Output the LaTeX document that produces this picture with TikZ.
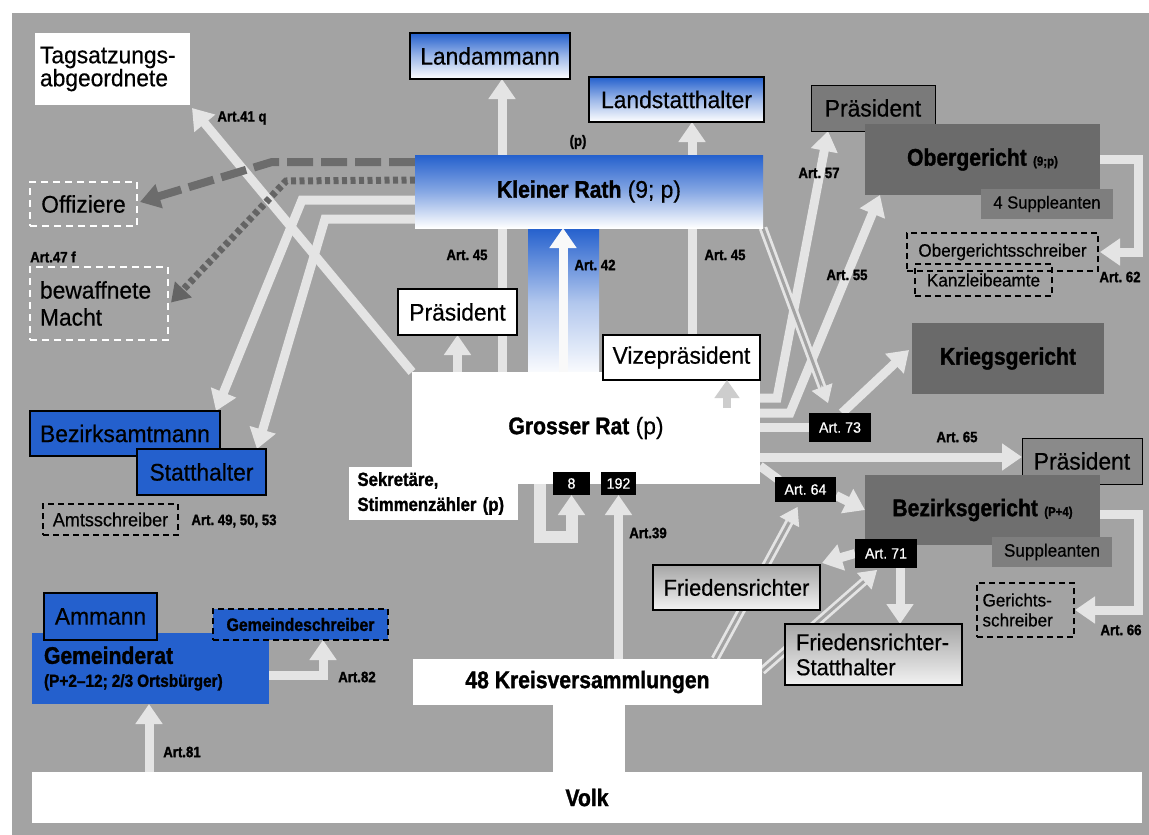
\documentclass[tikz,border=0pt]{standalone}
\usepackage{fontspec}
\setmainfont{Liberation Sans}[FakeStretch=0.95, UprightFeatures={FakeBold=0.5}, BoldFeatures={FakeStretch=0.88, FakeBold=1.3}]
\usetikzlibrary{arrows.meta,calc}
\definecolor{bgc}{RGB}{163,163,163}
\definecolor{bandc}{RGB}{228,228,228}
\definecolor{blu}{RGB}{36,96,205}
\definecolor{dashc}{RGB}{108,108,108}
\definecolor{dotc}{RGB}{100,100,100}
\definecolor{gOber}{RGB}{107,107,107}
\definecolor{gPraes}{RGB}{122,122,122}
\definecolor{gSupp}{RGB}{126,126,126}
\definecolor{gKrieg}{RGB}{106,106,106}
\definecolor{gBez}{RGB}{111,111,111}
\definecolor{gPraesB}{RGB}{138,138,138}
\definecolor{onwhite}{RGB}{205,205,205}
\pgfdeclarelayer{bg}
\pgfdeclarelayer{conn}
\pgfdeclarelayer{top}
\pgfsetlayers{bg,conn,main,top}
\newcommand\fL{\fontsize{24}{25}\selectfont}
\newcommand\fM{\fontsize{18}{20}\selectfont}
\newcommand\fA{\fontsize{15}{17}\selectfont}
\begin{document}
\frenchspacing
\begin{tikzpicture}[x=1pt,y=-1pt,
  box/.style={inner sep=0pt, outer sep=0pt, anchor=center, font=\fL},
  bluebox/.style={box, fill=blu, draw=black, line width=1.2pt},
  gradbox/.style={box, top color=blu, bottom color=white, middle color=blu!45!white, draw=black, line width=1.2pt},
  whitebox/.style={box, fill=white, draw=black, line width=1.2pt},
  graybox/.style={box, draw=black, line width=1pt},
  frbox/.style={box, top color=gray!70, bottom color=gray!10, draw=black, line width=1.2pt},
  dashbox/.style={box, draw=black, dash pattern=on 6pt off 4pt, line width=1.2pt, font=\fM},
  wdashbox/.style={box, draw=white, dash pattern=on 7pt off 5pt, line width=1.5pt},
  blackbox/.style={box, fill=black, text=white, font=\fA},
  lbl/.style={inner sep=0pt, font=\fA\bfseries},
  band/.style={draw=bandc, line width=9pt, -{Triangle[width=26pt,length=20pt]}},
  plainband/.style={draw=bandc, line width=9pt},
  dblline/.style={draw=bandc, line width=2.8pt, double=bgc, double distance=3pt},
  headonly/.style={draw=bandc, line width=1pt, -{Triangle[width=22pt,length=17pt]}},
  dashA/.style={draw=dashc, line width=8pt, dash pattern=on 26pt off 8pt, -{Triangle[width=24pt,length=20pt]}},
  dashB/.style={draw=dotc, line width=7pt, dash pattern=on 5pt off 3.5pt, -{Triangle[width=22pt,length=18pt]}}
]
\useasboundingbox (0,0) rectangle (1149,835);
\begin{pgfonlayer}{bg}
  \fill[white] (0,0) rectangle (1149,835);
  \fill[bgc] (12,13) rectangle (1149,835);
\end{pgfonlayer}

% ---------------- nodes ----------------
\node[box, fill=white, minimum width=155pt, minimum height=72pt, align=left, text width=145pt, font=\fontsize{24}{23}\selectfont] (tag) at (112.5,69) {Tagsatzungs-\\abgeordnete};
\node[gradbox, minimum width=160pt, minimum height=46pt] (landam) at (490,56) {Landammann};
\node[gradbox, minimum width=175pt, minimum height=45pt] (landst) at (676.5,99.5) {Landstatthalter};
\node[box, top color=blu, bottom color=white, middle color=blu!55!white, minimum width=348pt, minimum height=73pt] (kr) at (589,191.5) {\textbf{Kleiner Rath} (9; p)};

\node[wdashbox, minimum width=107pt, minimum height=44pt] (offz) at (83.5,204) {Offiziere};
\node[wdashbox, minimum width=138pt, minimum height=73pt, align=left, text width=118pt, font=\fontsize{24}{27}\selectfont] (bew) at (99,303.5) {bewaffnete\\Macht};

\node[bluebox, minimum width=190pt, minimum height=45pt] (bam) at (125,433.5) {Bezirksamtmann};
\node[bluebox, minimum width=129pt, minimum height=46pt] (stt) at (201.5,472) {Statthalter};
\node[dashbox, minimum width=135pt, minimum height=31pt, font=\fontsize{19}{21}\selectfont] (amts) at (110.5,519.5) {Amtsschreiber};

\node[box, fill=white, minimum width=348pt, minimum height=112pt] (gr) at (586,428) {\textbf{Grosser Rat} (p)};
\node[whitebox, minimum width=119pt, minimum height=46pt] (praes1) at (457.5,312) {Präsident};
\node[whitebox, minimum width=157pt, minimum height=45pt] (vize) at (681.5,357.5) {Vizepräsident};
\node[box, fill=white, minimum width=169pt, minimum height=53pt, align=left, text width=152pt, font=\fontsize{19}{25}\selectfont\bfseries] (sek) at (433.5,493.5) {Sekretäre,\\Stimmenzähler (p)};
\node[blackbox, minimum width=37pt, minimum height=23pt] (n8) at (571.5,483.5) {8};
\node[blackbox, minimum width=35pt, minimum height=23pt] (n192) at (618.5,483.5) {192};

\node[box, fill=white, minimum width=349pt, minimum height=46pt] (kreis) at (587.5,682) {\textbf{48 Kreisversammlungen}};
\node[box, fill=white, minimum width=1110pt, minimum height=51pt] (volk) at (587,797.5) {\textbf{Volk}};
\fill[white] (553,700) rectangle (625,775);

\node[box, fill=blu, minimum width=237pt, minimum height=71pt, align=left, text width=213pt, font=\fontsize{24}{23}\selectfont] (gem) at (150.5,668.5) {\textbf{Gemeinderat}\\{\fontsize{17.5}{19}\selectfont\bfseries (P+2–12;\hspace{4pt}2/3\hspace{4pt}Ortsbürger)}};
\node[bluebox, minimum width=113pt, minimum height=47pt] (amm) at (100.5,616.5) {Ammann};
\node[dashbox, fill=blu, minimum width=175pt, minimum height=31pt, font=\fontsize{18}{20}\selectfont\bfseries] (gsch) at (300.5,624.5) {Gemeindeschreiber};

\node[graybox, fill=gPraes, minimum width=124pt, minimum height=46pt] (praes2) at (873,108) {Präsident};
\node[box, fill=gOber, minimum width=235pt, minimum height=71pt] (oberg) at (982.5,159.5) {\textbf{Obergericht} {\fontsize{13}{15}\selectfont\bfseries(9;p)}};
\node[box, fill=gSupp, minimum width=132pt, minimum height=30pt, font=\fontsize{17.5}{19}\selectfont] (supp4) at (1047,204) {4 Suppleanten};
\node[dashbox, minimum width=191pt, minimum height=38pt] (ogs) at (1002.5,252) {Obergerichtsschreiber};
\node[dashbox, minimum width=137pt, minimum height=32pt] (kanz) at (983.5,280) {Kanzleibeamte};

\node[box, fill=gKrieg, minimum width=192pt, minimum height=71pt] (krieg) at (1008,358.5) {\textbf{Kriegsgericht}};
\node[blackbox, minimum width=62pt, minimum height=29pt] (a73) at (840,427.5) {Art. 73};
\node[graybox, fill=gPraesB, minimum width=120pt, minimum height=46pt] (praes3) at (1082,461) {Präsident};
\node[blackbox, minimum width=61pt, minimum height=25pt] (a64) at (805.5,489.5) {Art. 64};
\node[box, fill=gBez, minimum width=235pt, minimum height=70pt] (bzg) at (982.5,510) {\textbf{Bezirksgericht} {\fontsize{13}{15}\selectfont\bfseries(P+4)}};
\node[box, fill=gSupp, minimum width=120pt, minimum height=30pt, font=\fM] (supp) at (1052,552) {Suppleanten};
\node[dashbox, minimum width=97pt, minimum height=54pt, align=left, text width=86pt, font=\fontsize{18}{20}\selectfont] (gs) at (1025.5,610) {Gerichts-\\schreiber};
\node[blackbox, minimum width=62pt, minimum height=29pt] (a71) at (886,553.5) {Art. 71};
\node[frbox, minimum width=167pt, minimum height=45pt, font=\fontsize{23}{25}\selectfont] (fr) at (736.5,587.5) {Friedensrichter};
\node[frbox, minimum width=177pt, minimum height=61pt, align=left, text width=155pt, font=\fontsize{23}{25}\selectfont] (frs) at (873.5,654.5) {Friedensrichter-\\Statthalter};

% ---------------- connectors ----------------
\begin{pgfonlayer}{conn}
  \shade[top color=blu, bottom color=white, middle color=blu!35!white] (528,228) rectangle (599,378);
  % Art. 41q
  \draw[band] (gr.north west) -- ([shift={(2pt,-3pt)}]tag.south east);
  % to Bezirksamtmann / Statthalter
  \draw[band] ([yshift=-8.5pt]kr.west) -- (302,200) -- ([xshift=-4pt]bam.north east);
  \draw[band] ([yshift=-27.5pt]kr.west) -- (325,219) -- ([xshift=-9pt]stt.north east);
  % dashed to Offiziere / bewaffnete Macht
  \draw[dashA] ([yshift=29.5pt]kr.west) -- (272,162) -- ([xshift=3pt,yshift=2pt]offz.east);
  \draw[dashB] ([yshift=11.5pt]kr.west) -- (286,181) -- ([xshift=3pt,yshift=1pt]bew.east);
  % Art. 45 both
  \draw[band] ([xshift=12pt]landam.south |- gr.north) -- ([xshift=12pt]landam.south);
  \draw[band] ([xshift=15.5pt]landst.south |- gr.north) -- ([xshift=15.5pt]landst.south);
  % Praesident small
  \draw[band] (praes1.south |- gr.north) -- (praes1.south);
  % Art. 57, 55
  \draw[band] ([yshift=30pt]gr.east) -- (777,398) -- ([xshift=-45pt]praes2.south);
  \draw[band] ([yshift=15pt]gr.east) -- (790,413) -- ([xshift=15pt]oberg.south west);
  % Art. 73
  \draw[plainband] (gr.east |- a73.west) -- (a73.west);
  \coordinate (t73) at ([xshift=-12pt,yshift=10pt]a73.north);
  \draw[dblline, shorten >=12pt] (kr.south east) -- (t73);
  \draw[headonly] ($(kr.south east)!0.9!(t73)$) -- (t73);
  \draw[band] ([xshift=2pt]a73.north) -- ([xshift=-3pt,yshift=8.5pt]krieg.west);
  % Art. 65
  \coordinate (p65) at ([yshift=4pt]praes3.west);
  \draw[band] (gr.east |- p65) -- (p65);
  % Art. 64
  \draw[plainband] ([yshift=-38pt]gr.east) -- ([xshift=4pt,yshift=-3pt]a64.north west);
  \draw[band] ([yshift=-6pt]a64.east) -- (bzg.west);
  \coordinate (k64) at ([xshift=127.5pt]kreis.north);
  \coordinate (t64) at ([xshift=-8pt,yshift=-5pt]a64.south);
  \draw[dblline, shorten >=12pt] (k64) -- (t64);
  \draw[headonly] ($(k64)!0.9!(t64)$) -- (t64);
  % Art. 71
  \coordinate (k71) at ([yshift=-12pt]kreis.north east);
  \coordinate (t71) at ([xshift=-9pt,yshift=-2pt]a71.south);
  \draw[dblline, shorten >=12pt] (k71) -- (t71);
  \draw[headonly] ($(k71)!0.9!(t71)$) -- (t71);
  \draw[band] (a71.west) -- ([xshift=2pt,yshift=2pt]fr.north east);
  \draw[band] ([xshift=14pt]a71.south) -- ([xshift=14pt]a71.south |- frs.north);
  % Art. 39 and 8
  \draw[band] (n192.south |- kreis.north) -- (n192.south);
  \draw[band, line width=12pt] ([xshift=-46pt]gr.south) |- ([yshift=-42pt]n8.south) -- (n8.south);
  % Art. 81, 82
  \draw[band] ([xshift=-1.5pt]gem.south |- volk.north) -- ([xshift=-1.5pt]gem.south);
  \draw[band] ([yshift=-6.5pt]gem.east) -| ([xshift=22.5pt]gsch.south);
  % Art. 62, 66
  \draw[band] (oberg.east) -- ++(38,0) |- ([xshift=2pt]ogs.east);
  \draw[band] ([yshift=-4pt]bzg.east) -- ++(38,0) |- ([xshift=1pt]gs.east);
\end{pgfonlayer}

\begin{pgfonlayer}{top}
  \draw[band, draw=white!95!gray] ([xshift=-26pt]kr.south |- gr.north) -- ([xshift=-26pt]kr.south);
  \draw[band, draw=onwhite, line width=8pt, -{Triangle[width=24pt,length=18pt]}] ([xshift=45.5pt,yshift=-28pt]vize.south) -- ([xshift=45.5pt]vize.south);
  % labels
  \node[lbl] (pk) at (578,142) {(p)};
  \node[lbl] (a41) at (242,118) {Art.41 q};
  \node[lbl, anchor=west] (a47) at (30,257) {Art.47 f};
  \node[lbl] (a45l) at (467,255) {Art. 45};
  \node[lbl] (a45r) at (725,255) {Art. 45};
  \node[lbl] (a42) at (595,265) {Art. 42};
  \node[lbl] (a495053) at (234,521) {Art. 49, 50, 53};
  \node[lbl] (a39) at (648,533) {Art.39};
  \node[lbl] (a57) at (819,173) {Art. 57};
  \node[lbl] (a55) at (847,275) {Art. 55};
  \node[lbl] (a62) at (1120,277) {Art. 62};
  \node[lbl] (a65) at (957,437) {Art. 65};
  \node[lbl] (a66) at (1121,630) {Art. 66};
  \node[lbl] (a82) at (357,677) {Art.82};
  \node[lbl] (a81) at (182,752) {Art.81};
\end{pgfonlayer}
\end{tikzpicture}
\end{document}
